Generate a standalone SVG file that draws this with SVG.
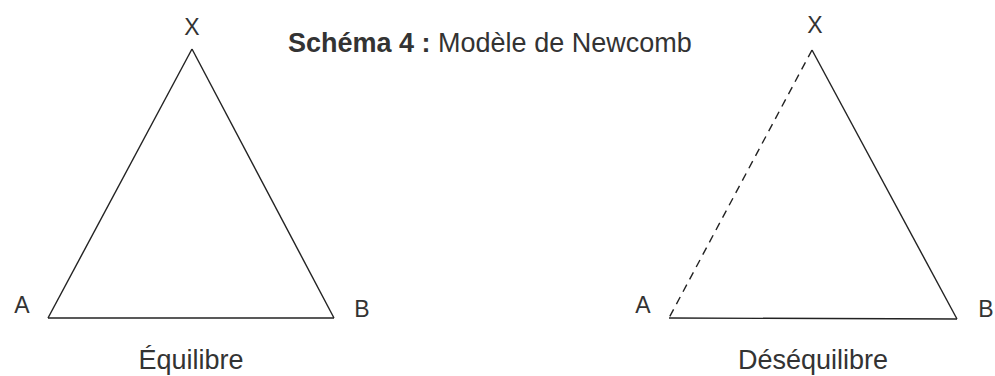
<svg xmlns="http://www.w3.org/2000/svg" width="995" height="376" viewBox="0 0 995 376">
<style>
.lbl{font-family:"Liberation Sans",Arial,sans-serif;fill:#333;}
.v{font-size:23px;text-anchor:middle;}
.cap{font-size:27px;text-anchor:middle;}
.title{font-size:27px;}
.edge{stroke:#222;stroke-width:1.4;fill:none;}
.dash{stroke-dasharray:8 6;}
</style>
<rect width="995" height="376" fill="#fff"/>
<text class="lbl title" x="288" y="52"><tspan font-weight="bold">Schéma 4 :</tspan> Modèle de Newcomb</text>
<g id="connectors">
<line class="edge" x1="192" y1="49" x2="48" y2="318"/>
<line class="edge" x1="192" y1="49" x2="334" y2="318"/>
<line class="edge" x1="48" y1="318" x2="334" y2="318"/>
<line class="edge dash" x1="812" y1="50" x2="669" y2="318"/>
<line class="edge" x1="812" y1="50" x2="957" y2="319"/>
<line class="edge" x1="669" y1="318" x2="957" y2="319"/>
</g>
<g id="left-X"><text class="lbl v" x="192" y="35">X</text></g>
<g id="left-A"><text class="lbl v" x="22" y="313">A</text></g>
<g id="left-B"><text class="lbl v" x="362" y="317">B</text></g>
<g id="left-caption"><text class="lbl cap" x="191" y="369">Équilibre</text></g>
<g id="right-X"><text class="lbl v" x="815" y="33">X</text></g>
<g id="right-A"><text class="lbl v" x="643" y="313">A</text></g>
<g id="right-B"><text class="lbl v" x="986" y="317">B</text></g>
<g id="right-caption"><text class="lbl cap" x="813" y="369">Déséquilibre</text></g>
</svg>
